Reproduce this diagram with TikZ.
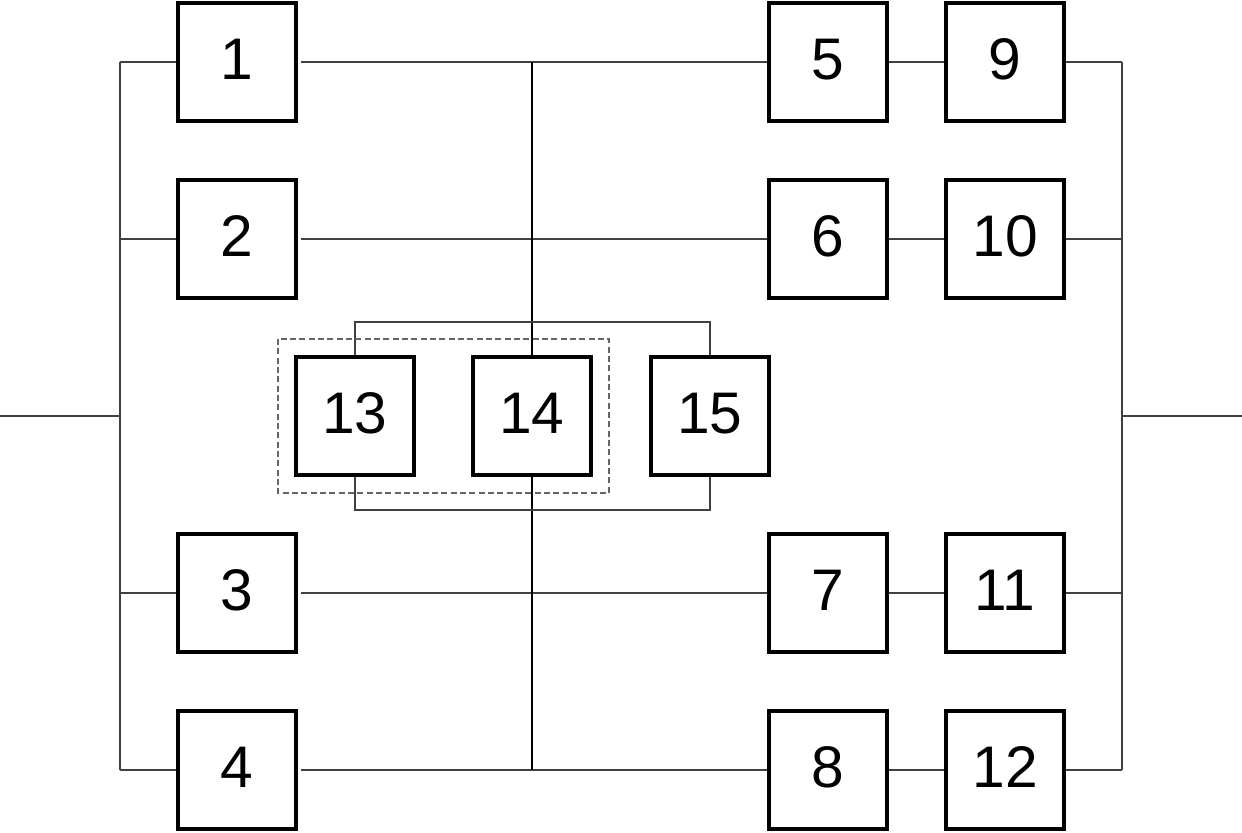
\documentclass[tikz,border=0pt]{standalone}
\usepackage{fontspec}
\setmainfont{Liberation Sans}
\usetikzlibrary{backgrounds}
\begin{document}
\begin{tikzpicture}[x=0.75pt,y=-0.75pt,
  blk/.style={draw=black,line width=2.5pt,fill=white,minimum size=88.5pt,inner sep=0pt,
    font=\fontsize{44}{44}\selectfont},
  wire/.style={draw=black!75,line width=0.8pt},
  mainwire/.style={draw=black,line width=0.9pt},
  grp/.style={draw=black!60,line width=0.8pt,dash pattern=on 4.5pt off 2.5pt}]
\useasboundingbox (0,0) rectangle (1242,832);
\newcommand{\lbl}[1]{\raisebox{4pt}{#1}}
% blocks
\node[blk] (b1) at (237,62) {\lbl{1}};
\node[blk] (b2) at (237,239) {\lbl{2}};
\node[blk] (b3) at (237,593) {\lbl{3}};
\node[blk] (b4) at (237,770) {\lbl{4}};
\node[blk] (b5) at (828,62) {\lbl{5}};
\node[blk] (b6) at (828,239) {\lbl{6}};
\node[blk] (b7) at (828,593) {\lbl{7}};
\node[blk] (b8) at (828,770) {\lbl{8}};
\node[blk] (b9) at (1005,62) {\lbl{9}};
\node[blk] (b10) at (1005,239) {\lbl{10}};
\node[blk] (b11) at (1005,593) {\lbl{11}};
\node[blk] (b12) at (1005,770) {\lbl{12}};
\node[blk] (b13) at (355,416) {\lbl{13}};
\node[blk] (b14) at (532,416) {\lbl{14}};
\node[blk] (b15) at (710,416) {\lbl{15}};
% coordinates
\coordinate (in) at (0,416);
\coordinate (lj) at (120,416);
\coordinate (lt) at (120,62);
\coordinate (lb) at (120,770);
\coordinate (out) at (1242,416);
\coordinate (rj) at (1122,416);
\coordinate (rt) at (1122,62);
\coordinate (rb) at (1122,770);
\coordinate (ct) at (532,62);
\coordinate (cb) at (532,770);
\coordinate (tl) at (532,322);
\coordinate (bl) at (532,510);
\begin{scope}[on background layer]
\draw[wire] (in) -- (lj);
\draw[wire] (lt) -- (lb);
\draw[wire] (lt) -- (b1.west);
\draw[wire] (b2.west -| lt) -- (b2.west);
\draw[wire] (b3.west -| lt) -- (b3.west);
\draw[wire] (lb) -- (b4.west);
\draw[wire] ([xshift=2.5pt]b1.east) -- (b5.west);
\draw[wire] ([xshift=2.5pt]b2.east) -- (b6.west);
\draw[wire] ([xshift=2.5pt]b3.east) -- (b7.west);
\draw[wire] ([xshift=2.5pt]b4.east) -- (b8.west);
\draw[wire] (b5) -- (b9);
\draw[wire] (b6) -- (b10);
\draw[wire] (b7) -- (b11);
\draw[wire] (b8) -- (b12);
\draw[wire] (b9.east) -- (rt);
\draw[wire] (b10.east) -- (b10.east -| rt);
\draw[wire] (b11.east) -- (b11.east -| rt);
\draw[wire] (b12.east) -- (rb);
\draw[wire] (rt) -- (rb);
\draw[wire] (rj) -- (out);
\draw[mainwire] (ct) -- (b14.north);
\draw[mainwire] (b14.south) -- (cb);
\draw[wire] (b13.north) |- (tl) -| (b15.north);
\draw[wire] (b13.south) |- (bl) -| (b15.south);
\draw[grp] (278,339) rectangle (609,493);
\end{scope}
\end{tikzpicture}
\end{document}
